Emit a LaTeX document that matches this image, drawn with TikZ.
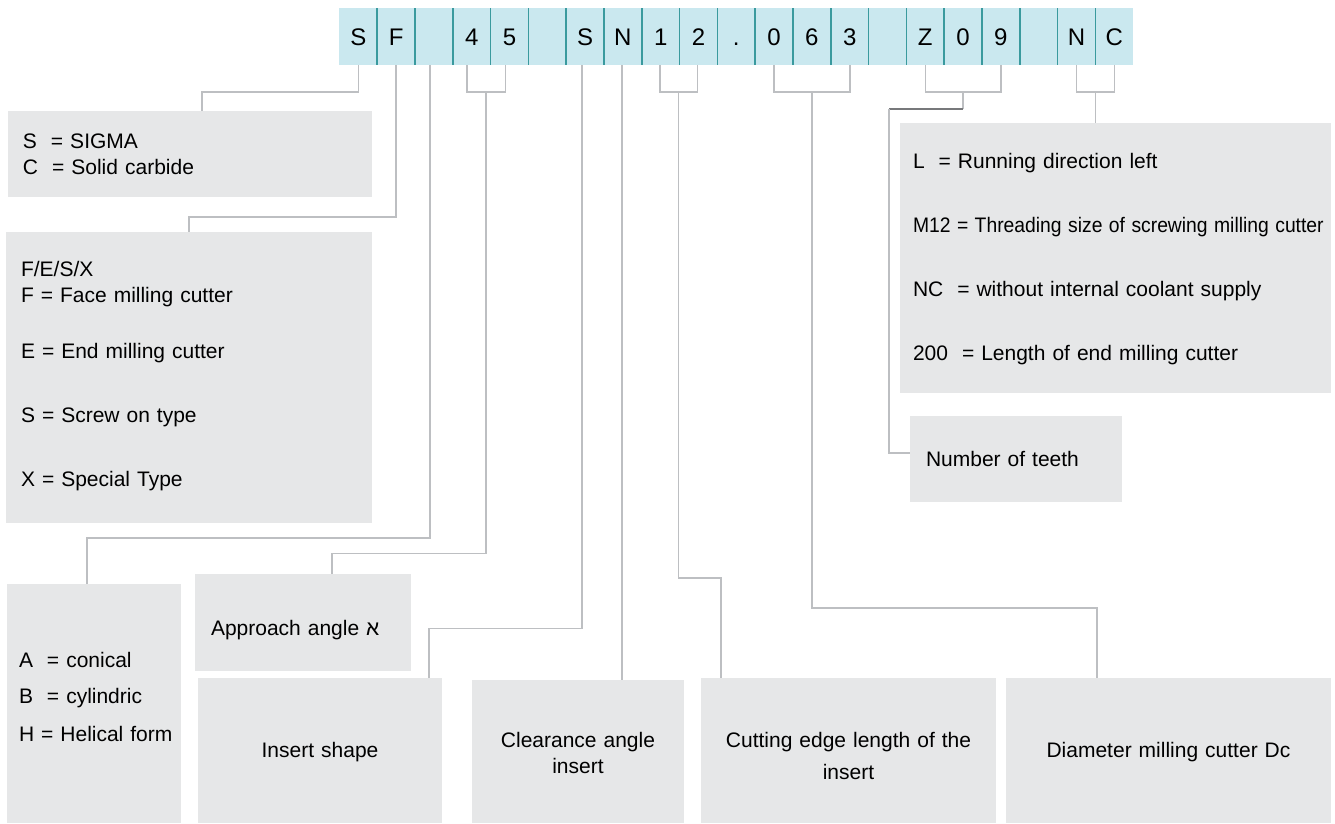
\documentclass[tikz,border=0pt]{standalone}
\usepackage{fontspec}
\setmainfont{Liberation Sans}
\usetikzlibrary{calc}
\definecolor{stripblue}{HTML}{CAE8EF}
\definecolor{septeal}{HTML}{3A9A9E}
\definecolor{boxgray}{HTML}{E6E7E8}
\definecolor{linegray}{HTML}{BDBFC2}
\definecolor{darkline}{HTML}{77787B}
\tikzset{
  cell/.style={fill=stripblue,minimum width=37.8pt,minimum height=56.7pt,inner sep=0pt,outer sep=0pt,
    text height=17pt,text depth=0pt,font=\fontsize{24}{24}\selectfont},
  sep/.style={septeal,line width=1.5pt},
  conn/.style={linegray,line width=1.6pt},
  box/.style={fill=boxgray,anchor=north west,inner ysep=0pt,inner xsep=14pt,outer sep=0pt,align=left,
    font=\fontsize{21}{26}\selectfont},
}
\begin{document}
\begin{tikzpicture}[x=1pt,y=-1pt]
    \useasboundingbox (0,0) rectangle (1335,823);
    %striscia codice
    \foreach \ch [count=\i from 0] in {S,F,{},4,5,{},S,N,1,2,.,0,6,3,{},Z,0,9,{},N,C}
        \node[cell](c\i) at ({339.4+37.8*(\i+0.5)},36.7){\ch};
    \foreach \i in {1,...,20}
        \draw[sep](c\i.north west)--(c\i.south west);

    %riquadri
    \node[box,inner xsep=15pt,text width=334pt,text height=37pt,text depth=49pt](sigma) at (8,111)
        {S\ \ = SIGMA\\C\ \ = Solid carbide};
    \node[box,inner xsep=15pt,text width=336pt,text height=44.5pt,text depth=246.5pt](types) at (6,232)
        {F/E/S/X\\F = Face milling cutter\\[30pt]E = End milling cutter\\[38pt]S = Screw on type\\[38pt]X = Special Type};
    \node[box,inner xsep=12pt,text width=150pt,text height=83.5pt,text depth=155.5pt](shank) at (7,584)
        {A\ \ = conical\\[10pt]B\ \ = cylindric\\[12pt]\mbox{H = Helical form}};
    \node[box,inner xsep=16pt,text width=184pt,text height=61pt,text depth=36pt](approach) at (195,574)
        {Approach angle א};
    \node[box,align=center,text width=216pt,text height=79.5pt,text depth=65.5pt](insert) at (198,678)
        {Insert shape};
    \node[box,align=center,text width=184pt,text height=67.5pt,text depth=75.5pt](clearance) at (472,680)
        {Clearance angle\\insert};
    \node[box,align=center,text width=267pt,text height=69.5pt,text depth=75.5pt](cutting) at (701,678)
        {Cutting edge length of the\\[6pt]insert};
    \node[box,align=center,text width=297pt,text height=79.5pt,text depth=65.5pt](diameter) at (1006,678)
        {Diameter milling cutter Dc};
    \node[box,inner xsep=13pt,text width=405pt,text height=45pt,text depth=225pt](nc) at (900,123)
        {L\ \ = Running direction left\\[38pt]\scalebox{0.92}[1]{M12 = Threading size of screwing milling cutter}\\[38pt]NC\ \ = without internal coolant supply\\[38pt]200\ \ = Length of end milling cutter};
    \node[box,inner xsep=16pt,text width=180pt,text height=50.7pt,text depth=35.3pt](teeth) at (910,416)
        {Number of teeth};

    %parentesi
    \draw[conn]([xshift=-5pt]c3.south)--++(0,27)-|([xshift=-4pt]c4.south);
    \draw[conn]([xshift=-1pt]c8.south)--++(0,27)-|([xshift=-1pt]c9.south);
    \draw[conn](c11.south)--++(0,27)-|(c13.south);
    \draw[conn](c15.south)--++(0,27)-|(c17.south);
    \draw[conn](c19.south)--++(0,27)-|(c20.south);
    \coordinate(b45) at ($(c3.south)!.5!(c4.south)+(-4.5,27)$);
    \coordinate(b12) at ($(c8.south)!.5!(c9.south)+(-1,27)$);
    \coordinate(b063) at ($(c11.south)!.5!(c13.south)+(0,27)$);
    \coordinate(bz09) at ($(c15.south)!.5!(c17.south)+(0,27)$);
    \coordinate(bnc) at ($(c19.south)!.5!(c20.south)+(0,27)$);

    %collegamenti
    \draw[conn](c0.south)--++(0,27)-|([xshift=12pt]sigma.north);
    \draw[conn](c1.south)--++(0,151.7)-|(types.north);
    \draw[conn]([xshift=-4pt]c2.south)--++(0,472.7)-|([xshift=-7pt]shank.north);
    \draw[conn](b45)--++(0,461.3)-|([xshift=29pt]approach.north);
    \draw[conn]([xshift=-3pt]c6.south)--++(0,563.3)-|([xshift=-13pt]insert.north east);
    \draw[conn]([xshift=-1pt]c7.south)--([xshift=-1pt]c7.south |- clearance.north);
    \draw[conn](b12)--++(0,485.7)-|([xshift=20pt]cutting.north west);
    \draw[conn](b063)--++(0,516)-|([xshift=91pt]diameter.north west);
    \draw[conn](bz09)--++(0,17)coordinate(z1);
    \draw[darkline,line width=1.2pt](z1)--++(-74,0)coordinate(z2);
    \draw[conn](z2)|-([yshift=6pt]teeth.west);
    \draw[conn](bnc)--(bnc |- nc.north);
\end{tikzpicture}
\end{document}
